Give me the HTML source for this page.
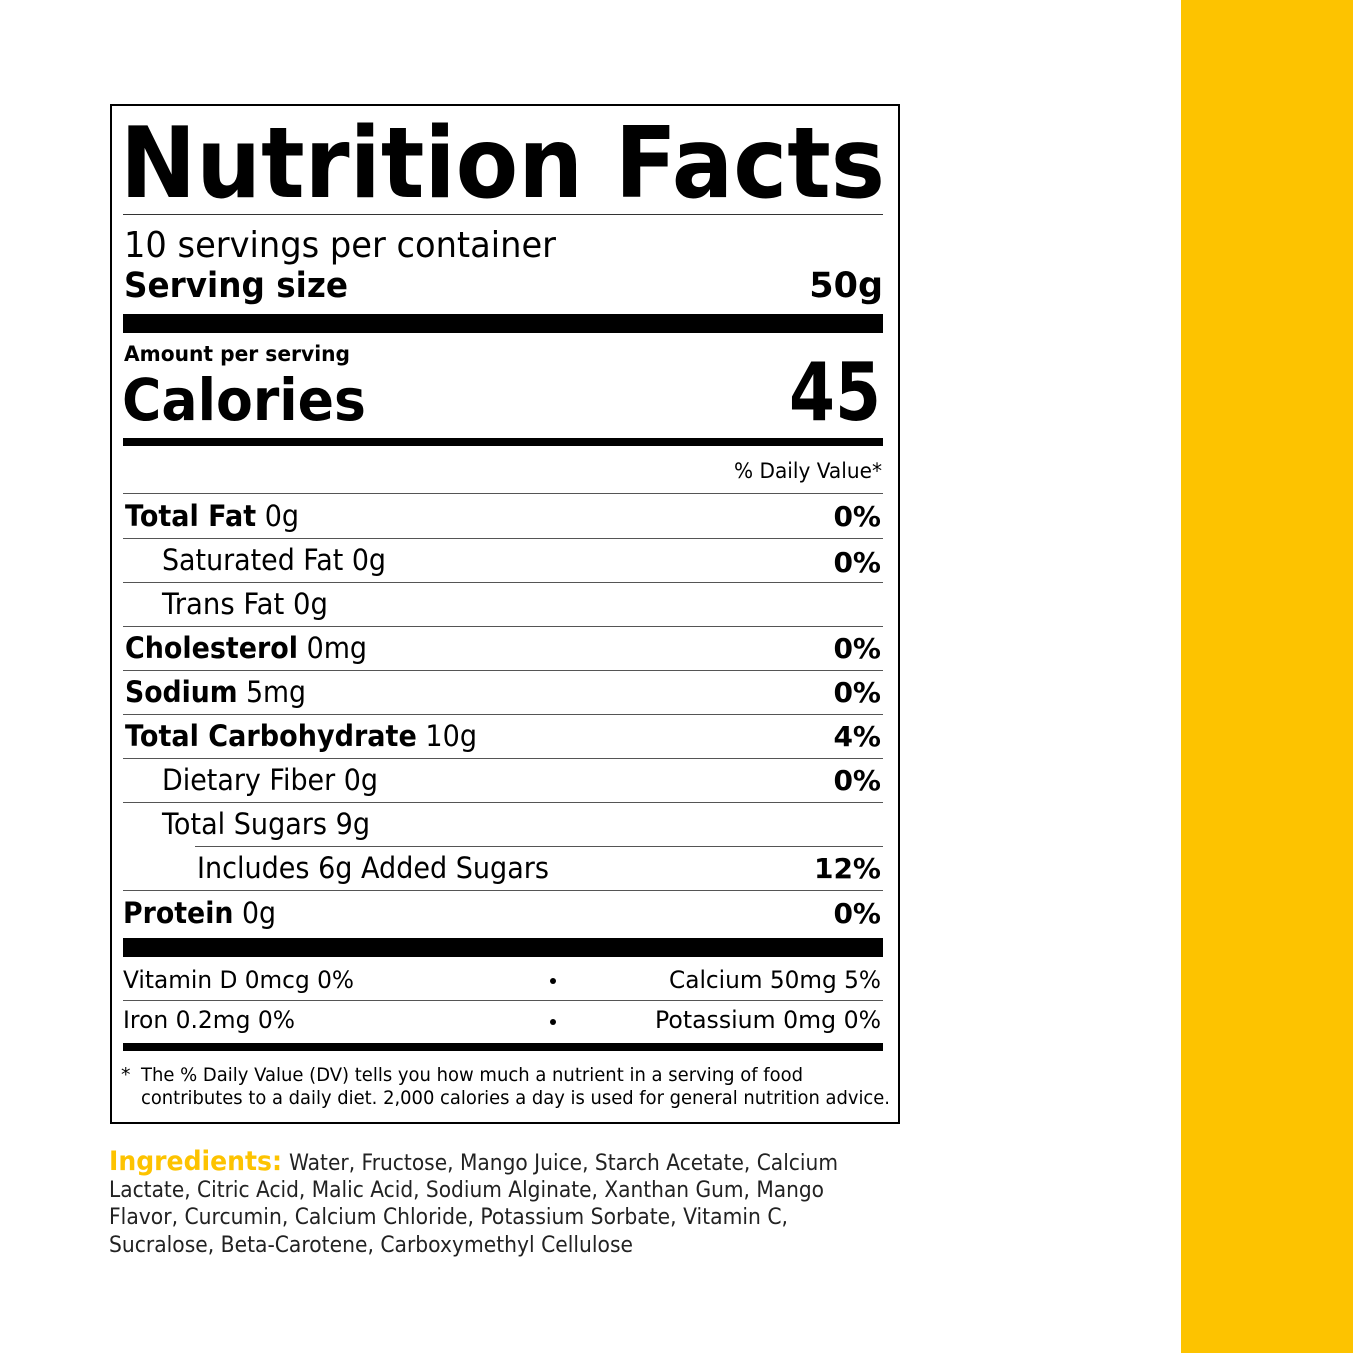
<!DOCTYPE html>
<html><head><meta charset="utf-8"><style>html,body{margin:0;padding:0;background:#fff}svg{display:block}</style></head><body>
<svg width="1353" height="1353" viewBox="0 0 1353 1353" xmlns="http://www.w3.org/2000/svg" font-family="'DejaVu Sans','Liberation Sans',sans-serif" fill="#000">
<rect x="1181" y="0" width="172" height="1353" fill="#FDC300"/>
<rect x="111" y="105" width="788" height="1018" fill="none" stroke="#000" stroke-width="2"/>
<text x="120" y="197" font-size="98" font-weight="bold" textLength="765" lengthAdjust="spacingAndGlyphs">Nutrition Facts</text>
<rect x="123" y="214" width="760" height="1" fill="#333"/>
<text x="124" y="257" font-size="36" textLength="432" lengthAdjust="spacingAndGlyphs">10 servings per container</text>
<text x="124" y="297" font-size="35" font-weight="bold" textLength="224" lengthAdjust="spacingAndGlyphs">Serving size</text>
<text x="883" y="297" font-size="35" font-weight="bold" text-anchor="end">50g</text>
<rect x="123" y="314" width="760" height="19"/>
<text x="124" y="361" font-size="21" font-weight="bold" textLength="226" lengthAdjust="spacingAndGlyphs">Amount per serving</text>
<text x="122" y="420" font-size="58" font-weight="bold" textLength="244" lengthAdjust="spacingAndGlyphs">Calories</text>
<text x="881" y="420" font-size="80" font-weight="bold" text-anchor="end" textLength="92" lengthAdjust="spacingAndGlyphs">45</text>
<rect x="123" y="438" width="760" height="8"/>
<text x="882" y="478" font-size="21" text-anchor="end" textLength="148" lengthAdjust="spacingAndGlyphs">% Daily Value*</text>
<g fill="#555">
<rect x="123" y="493" width="760" height="1"/>
<rect x="123" y="538" width="760" height="1"/>
<rect x="123" y="582" width="760" height="1"/>
<rect x="123" y="626" width="760" height="1"/>
<rect x="123" y="670" width="760" height="1"/>
<rect x="123" y="714" width="760" height="1"/>
<rect x="123" y="758" width="760" height="1"/>
<rect x="123" y="802" width="760" height="1"/>
<rect x="195" y="846" width="688" height="1"/>
<rect x="123" y="890" width="760" height="1"/>
<rect x="123" y="1000" width="760" height="1"/>
</g>
<g font-size="29">
<text x="125" y="526" textLength="174" lengthAdjust="spacingAndGlyphs"><tspan font-weight="bold">Total Fat</tspan> 0g</text>
<text x="162" y="570" textLength="224" lengthAdjust="spacingAndGlyphs">Saturated Fat 0g</text>
<text x="162" y="614" textLength="166" lengthAdjust="spacingAndGlyphs">Trans Fat 0g</text>
<text x="125" y="658" textLength="242" lengthAdjust="spacingAndGlyphs"><tspan font-weight="bold">Cholesterol</tspan> 0mg</text>
<text x="125" y="702" textLength="181" lengthAdjust="spacingAndGlyphs"><tspan font-weight="bold">Sodium</tspan> 5mg</text>
<text x="125" y="746" textLength="352" lengthAdjust="spacingAndGlyphs"><tspan font-weight="bold">Total Carbohydrate</tspan> 10g</text>
<text x="162" y="790" textLength="216" lengthAdjust="spacingAndGlyphs">Dietary Fiber 0g</text>
<text x="162" y="834" textLength="208" lengthAdjust="spacingAndGlyphs">Total Sugars 9g</text>
<text x="197" y="878" textLength="352" lengthAdjust="spacingAndGlyphs">Includes 6g Added Sugars</text>
<text x="123" y="923" textLength="153" lengthAdjust="spacingAndGlyphs"><tspan font-weight="bold">Protein</tspan> 0g</text>
</g>
<g font-size="28" font-weight="bold" text-anchor="end">
<text x="881" y="526">0%</text>
<text x="881" y="572">0%</text>
<text x="881" y="658">0%</text>
<text x="881" y="702">0%</text>
<text x="881" y="746">4%</text>
<text x="881" y="790">0%</text>
<text x="881" y="878">12%</text>
<text x="881" y="923">0%</text>
</g>
<rect x="123" y="938" width="760" height="19"/>
<g font-size="24">
<text x="123" y="988" textLength="231" lengthAdjust="spacingAndGlyphs">Vitamin D 0mcg 0%</text>
<text x="123" y="1028" textLength="172" lengthAdjust="spacingAndGlyphs">Iron 0.2mg 0%</text>
<text x="881" y="988" text-anchor="end" textLength="212" lengthAdjust="spacingAndGlyphs">Calcium 50mg 5%</text>
<text x="881" y="1028" text-anchor="end" textLength="226" lengthAdjust="spacingAndGlyphs">Potassium 0mg 0%</text>
</g>
<circle cx="553" cy="981" r="3"/><circle cx="553" cy="1022" r="3"/>
<rect x="123" y="1043" width="760" height="8"/>
<g font-size="19">
<text x="121" y="1081">*</text>
<text x="141" y="1081" textLength="662" lengthAdjust="spacingAndGlyphs">The % Daily Value (DV) tells you how much a nutrient in a serving of food</text>
<text x="141" y="1104" textLength="749" lengthAdjust="spacingAndGlyphs">contributes to a daily diet. 2,000 calories a day is used for general nutrition advice.</text>
</g>
<text x="109" y="1170" font-size="27" font-weight="bold" fill="#FDC300" textLength="173" lengthAdjust="spacingAndGlyphs">Ingredients:</text>
<g font-size="22" fill="#222">
<text x="289" y="1170" textLength="549" lengthAdjust="spacingAndGlyphs">Water, Fructose, Mango Juice, Starch Acetate, Calcium</text>
<text x="109" y="1197" textLength="715" lengthAdjust="spacingAndGlyphs">Lactate, Citric Acid, Malic Acid, Sodium Alginate, Xanthan Gum, Mango</text>
<text x="109" y="1224" textLength="679" lengthAdjust="spacingAndGlyphs">Flavor, Curcumin, Calcium Chloride, Potassium Sorbate, Vitamin C,</text>
<text x="109" y="1252" textLength="524" lengthAdjust="spacingAndGlyphs">Sucralose, Beta-Carotene, Carboxymethyl Cellulose</text>
</g>
</svg>
</body></html>
